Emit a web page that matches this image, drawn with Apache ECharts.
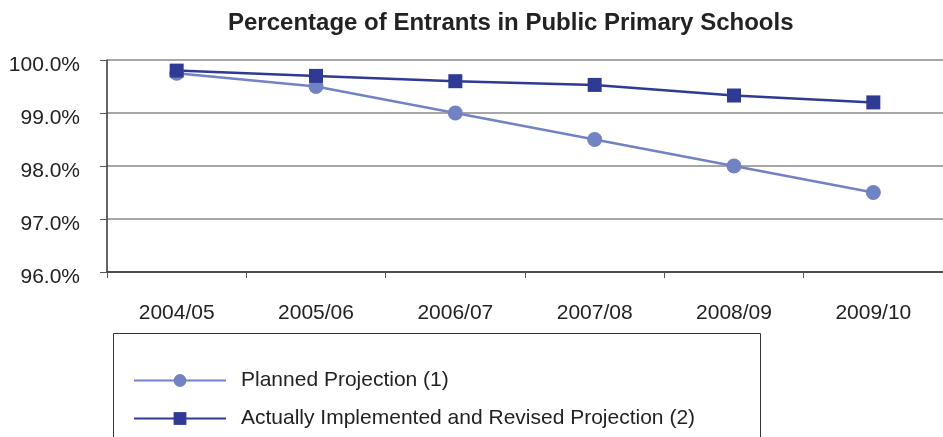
<!DOCTYPE html>
<html>
<head>
<meta charset="utf-8">
<script src="https://cdn.jsdelivr.net/npm/echarts@6/dist/echarts.min.js"></script>
<style>
html,body{margin:0;padding:0;background:#fff;}
#chart{width:943px;height:437px;}
</style>
</head>
<body>
<div id="chart"></div>
<script>
const categories = ['2004/05','2005/06','2006/07','2007/08','2008/09','2009/10'];
const planned = [99.75, 99.5, 99.0, 98.5, 98.0, 97.5];
const actual = [99.8, 99.7, 99.6, 99.53, 99.33, 99.2];
const seriesNames = ['Planned Projection (1)', 'Actually Implemented and Revised Projection (2)'];
const titleText = 'Percentage of Entrants in Public Primary Schools';

const FONT = 'Liberation Sans, Arial, sans-serif';
const chart = echarts.init(document.getElementById('chart'));
chart.setOption({
  animation: false,
  backgroundColor: '#fff',
  title: {
    text: titleText,
    left: 228, top: 11,
    padding: 0,
    textStyle: {fontFamily: FONT, fontSize: 24, fontWeight: 'bold', color: '#222'}
  },
  grid: {left: 107, right: -7, top: 60, bottom: 165, containLabel: false},
  xAxis: {
    type: 'category',
    data: categories,
    boundaryGap: true,
    axisLine: {show: true, lineStyle: {color: '#333', width: 1.5}},
    axisTick: {show: true, length: 6, lineStyle: {color: '#555'}},
    axisLabel: {margin: 31, fontFamily: FONT, fontSize: 21, color: '#222'},
    splitLine: {show: false}
  },
  yAxis: {
    type: 'value',
    min: 96, max: 100, interval: 1,
    axisLine: {show: true, lineStyle: {color: '#333', width: 1.5}},
    axisTick: {show: true, length: 7, lineStyle: {color: '#555'}},
    axisLabel: {
      margin: 27,
      color: '#222',
      formatter: v => '{a|' + v.toFixed(1) + '%}',
      rich: {a: {fontFamily: FONT, fontSize: 21, color: '#222', padding: [10, 0, 0, 0]}}
    },
    splitLine: {show: true, lineStyle: {color: '#8a8a8a', width: 1.5}}
  },
  legend: {
    orient: 'vertical',
    left: 133, top: 370,
    padding: 0,
    itemWidth: 92, itemHeight: 16, itemGap: 17,
    data: seriesNames,
    textStyle: {fontFamily: FONT, fontSize: 21, color: '#222', padding: [0,0,0,10], lineHeight: 21}
  },
  graphic: [{
    type: 'rect',
    shape: {x: 113.5, y: 333.5, width: 647, height: 120},
    style: {fill: 'none', stroke: '#333', lineWidth: 1}
  }],
  series: [
    {
      name: seriesNames[0], type: 'line', data: planned,
      symbol: 'circle', symbolSize: 15,
      lineStyle: {color: '#7283c4', width: 2.5},
      itemStyle: {color: '#7283c4'}
    },
    {
      name: seriesNames[1], type: 'line', data: actual,
      symbol: 'rect', symbolSize: 14,
      lineStyle: {color: '#2e3a94', width: 2.5},
      itemStyle: {color: '#2e3a94'}
    }
  ]
});
</script>
</body>
</html>
